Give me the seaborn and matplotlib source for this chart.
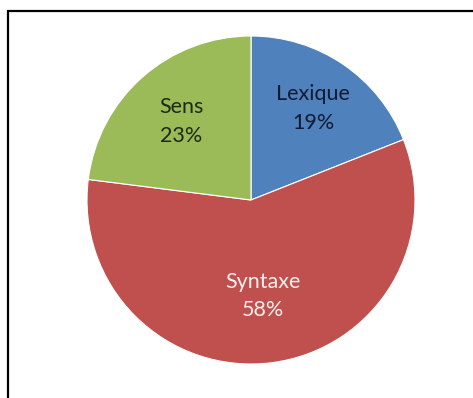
import matplotlib
matplotlib.use("Agg")
import matplotlib.pyplot as plt
import seaborn as sns
import numpy as np
from matplotlib.patches import Rectangle

categories = ["Lexique", "Syntaxe", "Sens"]
values = [19, 58, 23]
colors = ["#4F81BD", "#C0504D", "#9BBB59"]
text_colors = ["#111a33", "#fbeeee", "#1c2a12"]
label_radius = [0.675, 0.59, 0.64]

sns.set_theme(style="white")
plt.rcParams["font.family"] = ["Lato", "DejaVu Sans"]

W, H = 473, 398
fig = plt.figure(figsize=(W / 100, H / 100), dpi=100)
fig.patch.set_facecolor("white")

cx, cy, R = 251, 200, 164
ax = fig.add_axes([(cx - R) / W, (H - cy - R) / H, 2 * R / W, 2 * R / H])
wedges, _ = ax.pie(values, colors=colors, startangle=90, counterclock=False,
                   radius=1.0, wedgeprops=dict(edgecolor="white", linewidth=0.8))
ax.set_xlim(-1, 1)
ax.set_ylim(-1, 1)
ax.set_aspect("equal")
ax.axis("off")

for w, cat, v, tc, r in zip(wedges, categories, values, text_colors, label_radius):
    ang = np.deg2rad((w.theta1 + w.theta2) / 2)
    ax.text(r * np.cos(ang), r * np.sin(ang), f"{cat}\n{v}%", ha="center", va="center",
            fontsize=15.5, color=tc, linespacing=1.55)

fig.patches.append(Rectangle((8 / W, -0.1), 1.2, (H - 11) / H + 0.1, transform=fig.transFigure,
                             fill=False, edgecolor="black", linewidth=1.6, figure=fig))

fig.savefig("out.png", dpi=100)
